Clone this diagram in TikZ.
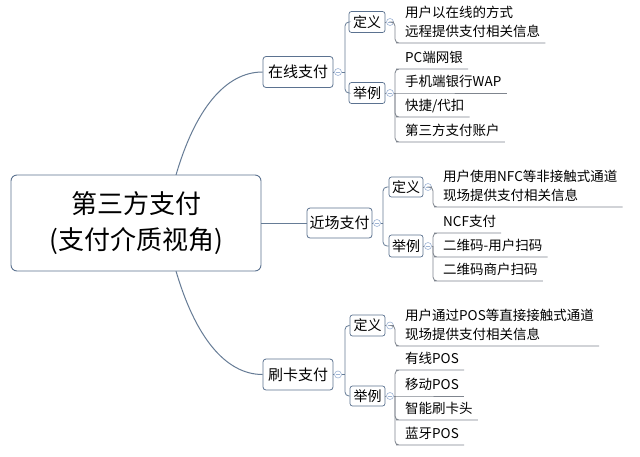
\documentclass[tikz,border=0pt]{standalone}
\usepackage{fontspec}
\setmainfont{Noto Sans CJK SC}
\definecolor{conn}{HTML}{667C96}
\definecolor{boxc}{HTML}{5B7290}
\definecolor{circ}{HTML}{9FB5D5}
\definecolor{leafl}{HTML}{7F858E}
\tikzset{
  central/.style={draw=boxc, line width=0.9pt, rounded corners=6pt, fill=white,
    minimum width=250pt, minimum height=96pt, align=center, inner sep=0pt,
    font=\fontsize{26}{36}\selectfont},
  branch/.style={draw=boxc, line width=0.8pt, rounded corners=3pt, fill=white,
    minimum width=70pt, minimum height=31pt, inner sep=0pt,
    font=\fontsize{15}{18}\selectfont},
  subbox/.style={draw=boxc, line width=0.7pt, rounded corners=2.5pt, fill=white,
    minimum width=36pt, minimum height=21pt, inner sep=0pt,
    font=\fontsize{14}{17}\selectfont},
  leaf/.style={anchor=south west, inner xsep=5pt, inner ysep=4pt, text depth=2pt,
    align=left, font=\fontsize{13.5}{19}\selectfont},
  tog/.style={circle, draw=circ, fill=white, line width=0.6pt, minimum size=7pt, inner sep=0pt,
    path picture={\draw[circ, line width=0.6pt] ([xshift=-2pt]path picture bounding box.center) -- ([xshift=2pt]path picture bounding box.center);}},
  mainc/.style={draw=conn, line width=1pt},
  subc/.style={draw=conn, line width=0.8pt, rounded corners=4pt},
  leafc/.style={draw=leafl, line width=0.8pt, rounded corners=4pt},
}
\begin{document}
\begin{tikzpicture}[x=1pt,y=-1pt]
\useasboundingbox[fill=white] (0,0) rectangle (640,456);

% branch nodes
\node[branch] (on) at (298,72) {在线支付};
\node[branch, minimum width=65pt, minimum height=30pt] (nf) at (339.5,223) {近场支付};
\node[branch] (cd) at (298,374.5) {刷卡支付};

% main connectors
\coordinate (cs1) at (176,175);
\coordinate (cs3) at (176,271);
\draw[mainc] (cs1) .. controls (195,110) and (225,72) .. (on.west);
\draw[mainc] (cs3) .. controls (195,336) and (225,374.5) .. (cd.west);
\node[central] (c) at (136,223) {第三方支付\\(支付介质视角)};
\draw[mainc] (c.east) -- (nf.west);

% ---------- online ----------
\node[subbox] (on-d) at (367,22) {定义};
\node[subbox] (on-e) at (367,93) {举例};
\node[tog] (on-t) at (338,72) {};
\coordinate (on-b) at (345,72);
\draw[subc] (on.east) -- (on-t.west);
\draw[subc] (on-t.east) -- (on-b);
\draw[subc] (on-b) |- (on-d.west);
\draw[subc] (on-b) |- (on-e.west);

\node[tog] (on-dt) at (390,22) {};
\coordinate (on-db) at (395,22);
\node[leaf] (on-d1) at (400,43) {用户以在线的方式\\远程提供支付相关信息};
\draw[leafc] (on-d.east) -- (on-dt.west);
\draw[leafc] (on-dt.east) -- (on-db) |- (on-d1.south west) -- (on-d1.south east);

\node[tog] (on-et) at (390,93) {};
\coordinate (on-eb) at (395,93);
\node[leaf] (on-e1) at (400,69) {PC端网银};
\node[leaf] (on-e2) at (400,93) {手机端银行WAP};
\node[leaf] (on-e3) at (400,117) {快捷/代扣};
\node[leaf] (on-e4) at (400,142) {第三方支付账户};
\draw[leafc] (on-e.east) -- (on-et.west);
\draw[leafc] (on-et.east) -- (on-eb);
\draw[leafc] (on-eb) |- (on-e1.south west) -- (on-e1.south east);
\draw[leafc] (on-eb) -- (on-e2.south west) -- (on-e2.south east);
\draw[leafc] (on-eb) |- (on-e3.south west) -- (on-e3.south east);
\draw[leafc] (on-eb) |- (on-e4.south west) -- (on-e4.south east);

% ---------- near field ----------
\node[subbox, minimum width=34pt, minimum height=20pt] (nf-d) at (406,187) {定义};
\node[subbox, minimum width=34pt, minimum height=22pt] (nf-e) at (406,246) {举例};
\node[tog] (nf-t) at (377,223) {};
\coordinate (nf-b) at (383,223);
\draw[subc] (nf.east) -- (nf-t.west);
\draw[subc] (nf-t.east) -- (nf-b);
\draw[subc] (nf-b) |- (nf-d.west);
\draw[subc] (nf-b) |- (nf-e.west);

\node[tog] (nf-dt) at (428,187) {};
\coordinate (nf-db) at (433,187);
\node[leaf] (nf-d1) at (438,207) {用户使用NFC等非接触式通道\\现场提供支付相关信息};
\draw[leafc] (nf-d.east) -- (nf-dt.west);
\draw[leafc] (nf-dt.east) -- (nf-db) |- (nf-d1.south west) -- (nf-d1.south east);

\node[tog] (nf-et) at (428,246) {};
\coordinate (nf-eb) at (433,246);
\node[leaf] (nf-e1) at (438,233) {NCF支付};
\node[leaf] (nf-e2) at (438,257) {二维码-用户扫码};
\node[leaf] (nf-e3) at (438,281) {二维码商户扫码};
\draw[leafc] (nf-e.east) -- (nf-et.west);
\draw[leafc] (nf-et.east) -- (nf-eb);
\draw[leafc] (nf-eb) |- (nf-e1.south west) -- (nf-e1.south east);
\draw[leafc] (nf-eb) |- (nf-e2.south west) -- (nf-e2.south east);
\draw[leafc] (nf-eb) |- (nf-e3.south west) -- (nf-e3.south east);

% ---------- card ----------
\node[subbox, minimum width=35pt] (cd-d) at (367.5,325.5) {定义};
\node[subbox, minimum width=35pt, minimum height=20pt] (cd-e) at (367.5,396) {举例};
\node[tog] (cd-t) at (338,374.5) {};
\coordinate (cd-b) at (345,374.5);
\draw[subc] (cd.east) -- (cd-t.west);
\draw[subc] (cd-t.east) -- (cd-b);
\draw[subc] (cd-b) |- (cd-d.west);
\draw[subc] (cd-b) |- (cd-e.west);

\node[tog] (cd-dt) at (390,325.5) {};
\coordinate (cd-db) at (395,325.5);
\node[leaf] (cd-d1) at (400,346) {用户通过POS等直接接触式通道\\现场提供支付相关信息};
\draw[leafc] (cd-d.east) -- (cd-dt.west);
\draw[leafc] (cd-dt.east) -- (cd-db) |- (cd-d1.south west) -- (cd-d1.south east);

\node[tog] (cd-et) at (390,396) {};
\coordinate (cd-eb) at (395,396);
\node[leaf] (cd-e1) at (400,370) {有线POS};
\node[leaf] (cd-e2) at (400,396) {移动POS};
\node[leaf] (cd-e3) at (400,420) {智能刷卡头};
\node[leaf] (cd-e4) at (400,445) {蓝牙POS};
\draw[leafc] (cd-e.east) -- (cd-et.west);
\draw[leafc] (cd-et.east) -- (cd-eb);
\draw[leafc] (cd-eb) |- (cd-e1.south west) -- (cd-e1.south east);
\draw[leafc] (cd-eb) -- (cd-e2.south west) -- (cd-e2.south east);
\draw[leafc] (cd-eb) |- (cd-e3.south west) -- (cd-e3.south east);
\draw[leafc] (cd-eb) |- (cd-e4.south west) -- (cd-e4.south east);
\end{tikzpicture}
\end{document}
